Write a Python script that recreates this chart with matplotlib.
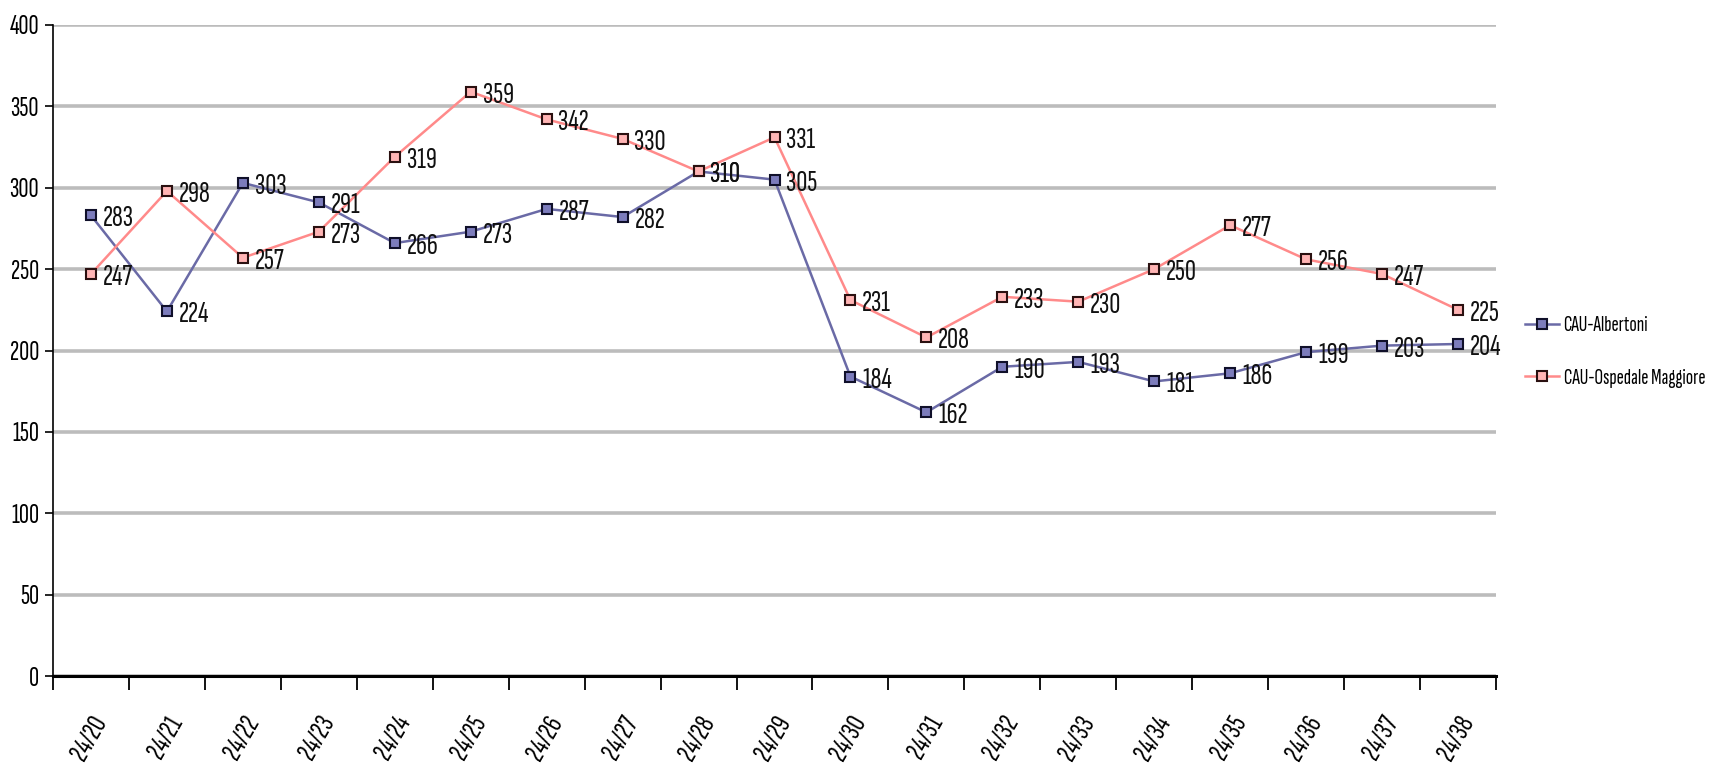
import matplotlib.pyplot as plt
import numpy as np

weeks = ["24/20", "24/21", "24/22", "24/23", "24/24", "24/25", "24/26", "24/27", "24/28", "24/29",
         "24/30", "24/31", "24/32", "24/33", "24/34", "24/35", "24/36", "24/37", "24/38"]
albertoni = [283, 224, 303, 291, 266, 273, 287, 282, 310, 305, 184, 162, 190, 193, 181, 186, 199, 203, 204]
ospedale = [247, 298, 257, 273, 319, 359, 342, 330, 310, 331, 231, 208, 233, 230, 250, 277, 256, 247, 225]

plt.rcParams["font.family"] = ["Sofia Sans Extra Condensed", "DejaVu Sans"]

W, H = 1720, 774
fig = plt.figure(figsize=(W / 100, H / 100), dpi=100)
ax = fig.add_axes([53 / W, 1 - 676 / H, (1496 - 53) / W, (676 - 25) / H])

x = np.arange(len(weeks))
blue = "#6a6aa6"
red = "#ff8a8a"

ax.plot(x, albertoni, color=blue, lw=1.8, marker="s", ms=7, mfc="#7c7cbc", mec="#10102a", mew=1.5,
        label="CAU-Albertoni", zorder=3)
ax.plot(x, ospedale, color=red, lw=1.8, marker="s", ms=7, mfc="#ffb4b4", mec="#2a1010", mew=1.5,
        label="CAU-Ospedale Maggiore", zorder=3)

for series in (albertoni, ospedale):
    for xi, v in zip(x, series):
        ax.annotate(str(v), (xi, v), xytext=(8.5, -2.5), textcoords="offset points",
                    ha="left", va="center", fontsize=22, color="#111111", zorder=4)

ax.set_xlim(-0.5, len(weeks) - 0.5)
ax.set_ylim(0, 400)
ax.set_yticks(range(0, 401, 50))
ax.yaxis.grid(True, color="#bcbcbc", lw=2.6)
ax.set_axisbelow(True)

ax.set_xticks(x)
ax.set_xticklabels(weeks, rotation=60, ha="right", rotation_mode="anchor", fontsize=21)
ax.set_xticks(np.arange(-0.5, len(weeks)), minor=True)
ax.tick_params(axis="x", which="major", length=0, pad=26)
ax.tick_params(axis="x", which="minor", length=10, width=1.3, direction="out")
ax.tick_params(axis="y", length=6, width=1.2, labelsize=20, pad=4)

for s in ["top", "right"]:
    ax.spines[s].set_visible(False)
ax.spines["left"].set_linewidth(1.2)
ax.spines["bottom"].set_linewidth(2.2)

fig.legend(loc="center left", bbox_to_anchor=(1514 / W, 1 - 352 / H), frameon=False,
           fontsize=15.5, handlelength=1.6, labelspacing=1.55, handletextpad=0.2, borderpad=0)

fig.savefig("out.png", dpi=100, facecolor="white")
